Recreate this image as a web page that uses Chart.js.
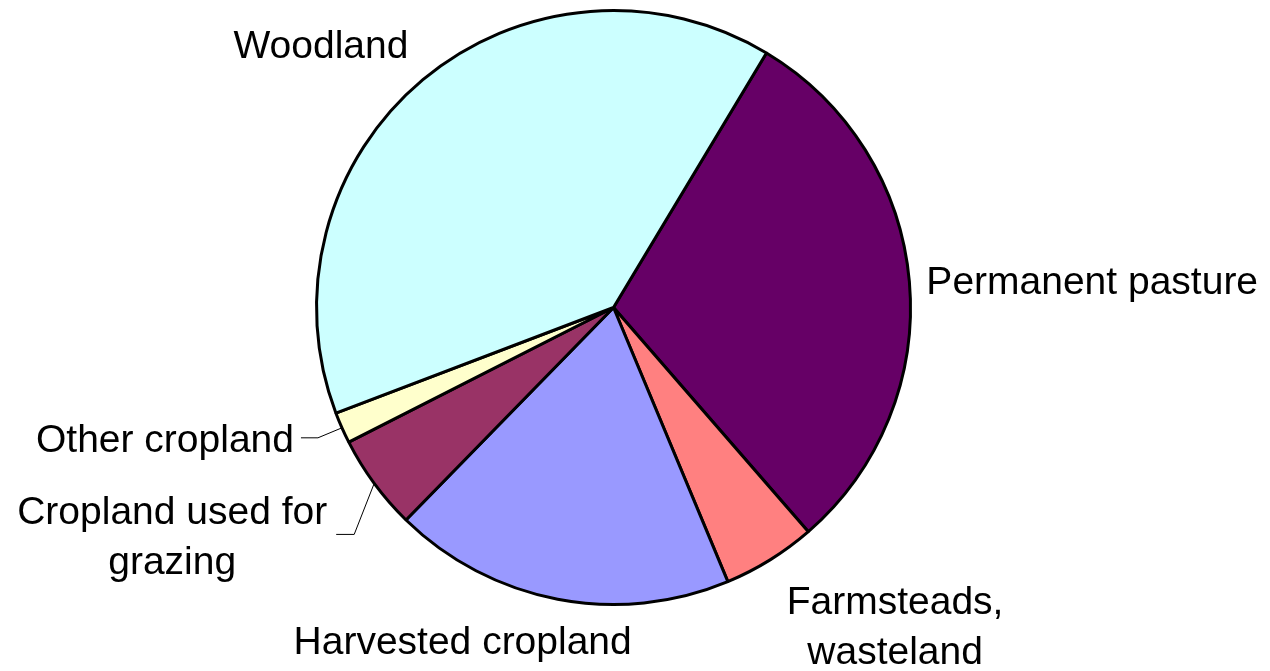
<!DOCTYPE html>
<html>
<head>
<meta charset="utf-8">
<script src="https://cdn.jsdelivr.net/npm/chart.js@4.4.1/dist/chart.umd.min.js"></script>
<style>
  html, body { margin:0; padding:0; background:#fff; }
  #wrap { width:1270px; height:671px; }
</style>
</head>
<body>
<div id="wrap"><canvas id="chartPie" width="1270" height="671"></canvas></div>
<script>
// land use shares (percent), clockwise from the top-right boundary
const categories = ["Permanent pasture", "Farmsteads, wasteland", "Harvested cropland",
                    "Cropland used for grazing", "Other cropland", "Woodland"];
const shares = [30.0, 5.1, 18.6, 5.2, 1.7, 39.4];
const labelLines = [["Permanent pasture"], ["Farmsteads,", "wasteland"], ["Harvested cropland"],
                    ["Cropland used for", "grazing"], ["Other cropland"], ["Woodland"]];
const sliceColors = ["#660066", "#ff8080", "#9999ff", "#993366", "#ffffcc", "#ccffff"];

// label placement relative to the slice edge at its mid angle
const labelPos = [
  {dx:17, dy:12, align:"left"},
  {dx:125, dy:54, align:"center"},
  {dx:-95, dy:55, align:"center"},
  {dx:-202, dy:41, align:"center", leader:[[-20,51],[-38,51]]},
  {dx:-48, dy:24, align:"right", leader:[[-24,10],[-41,10]]},
  {dx:-102, dy:-22, align:"center"},
];

const FONT = '39px "Liberation Sans", Arial, sans-serif';

const pieLabels = {
  id: "pieLabels",
  afterDraw(chart){
    const ctx = chart.ctx;
    const arcs = chart.getDatasetMeta(0).data;
    ctx.save();
    ctx.font = FONT;
    ctx.fillStyle = "#000";
    ctx.textBaseline = "alphabetic";
    arcs.forEach((arc, i) => {
      const p = arc.getProps(["x","y","startAngle","endAngle","outerRadius"], true);
      const mid = (p.startAngle + p.endAngle) / 2;
      const ex = p.x + Math.cos(mid) * p.outerRadius;
      const ey = p.y + Math.sin(mid) * p.outerRadius;
      const lp = labelPos[i];
      if (lp.leader){
        ctx.beginPath();
        ctx.strokeStyle = "#000";
        ctx.lineWidth = 1;
        ctx.moveTo(ex, ey);
        lp.leader.forEach(([lx, ly]) => ctx.lineTo(ex + lx, ey + ly));
        ctx.stroke();
      }
      ctx.textAlign = lp.align;
      labelLines[i].forEach((t, k) => {
        ctx.fillText(t, ex + lp.dx, ey + lp.dy + k * 50);
      });
    });
    ctx.restore();
  }
};

new Chart(document.getElementById("chartPie"), {
  type: "pie",
  data: {
    labels: categories,
    datasets: [{
      data: shares,
      backgroundColor: sliceColors,
      borderColor: "#000",
      borderWidth: 3,
      hoverOffset: 0,
    }]
  },
  options: {
    responsive: false,
    animation: false,
    rotation: 31,
    layout: { padding: { left: 315, right: 358, top: 9, bottom: 65 } },
    plugins: { legend: { display:false }, tooltip: { enabled:false } }
  },
  plugins: [pieLabels]
});
</script>
</body>
</html>
